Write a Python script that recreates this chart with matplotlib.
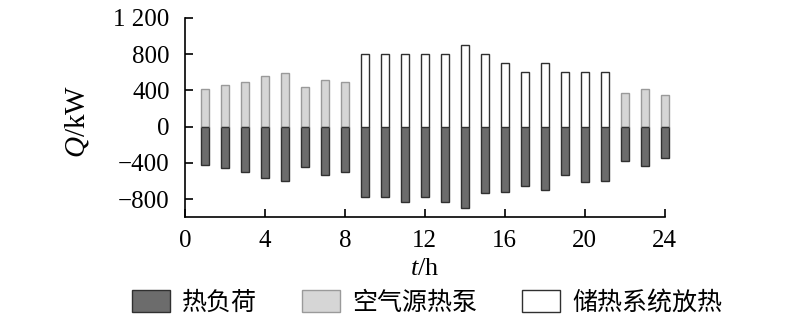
import numpy as np
import matplotlib
matplotlib.use('Agg')
import matplotlib.pyplot as plt
from matplotlib.patches import Patch

plt.rcParams['font.family'] = ['Liberation Serif', 'Noto Sans CJK SC']
plt.rcParams['mathtext.fontset'] = 'custom'
plt.rcParams['mathtext.rm'] = 'Liberation Serif'
plt.rcParams['mathtext.it'] = 'Liberation Serif:italic'

hours = np.arange(1, 25)
# heat load (negative)
load = [-420, -460, -500, -570, -600, -440, -530, -500,
        -770, -770, -830, -770, -830, -900, -730, -720,
        -650, -700, -530, -610, -600, -380, -430, -350]
# air source heat pump
pump = [415, 455, 495, 560, 590, 435, 520, 490,
        0, 0, 0, 0, 0, 0, 0, 0,
        0, 0, 0, 0, 0, 375, 420, 345]
# storage discharge
storage = [0, 0, 0, 0, 0, 0, 0, 0,
           800, 800, 800, 800, 800, 900, 800, 700,
           600, 700, 600, 600, 600, 0, 0, 0]

xticks = [0, 4, 8, 12, 16, 20, 24]
yticks = [-800, -400, 0, 400, 800, 1200]
yticklabels = ['\u2212800', '\u2212400', '0', '400', '800', '1 200']
legend_labels = ['热负荷', '空气源热泵', '储热系统放热']

fig = plt.figure(figsize=(8, 3.24), dpi=100)
ax = fig.add_axes([0.231, 0.329, 0.6, 0.616])

w = 0.4
ax.bar(hours, load, width=w, color='#6c6c6c', edgecolor='#303030', linewidth=1.0, clip_on=False)
ax.bar(hours, pump, width=w, color='#d6d6d6', edgecolor='#9a9a9a', linewidth=1.0, clip_on=False)
ax.bar(hours, storage, width=w, color='white', edgecolor='#303030', linewidth=1.0, clip_on=False)

ax.set_xlim(0, 24)
ax.set_ylim(-1000, 1200)
ax.set_xticks(xticks)
ax.set_yticks(yticks)
ax.set_yticklabels(yticklabels)
ax.tick_params(direction='in', length=6, width=1.2, labelsize=18)
ax.tick_params(axis='x', pad=9)
ax.tick_params(axis='y', pad=11)
for s in ['top', 'right']:
    ax.spines[s].set_visible(False)
for s in ['left', 'bottom']:
    ax.spines[s].set_linewidth(1.2)

ax.set_xlabel(r'$t$/h', fontsize=19)
ax.set_ylabel(r'$Q$/kW', fontsize=21)
ax.xaxis.set_label_coords(0.5, -0.205)
ax.yaxis.set_label_coords(-0.195, 0.48)

handles = [Patch(facecolor='#6c6c6c', edgecolor='#303030'),
           Patch(facecolor='#d6d6d6', edgecolor='#9a9a9a'),
           Patch(facecolor='white', edgecolor='#303030')]
fig.legend(handles, legend_labels, loc='center', bbox_to_anchor=(0.534, 0.066),
           ncol=3, frameon=False, prop={'family': 'Noto Sans CJK SC', 'size': 18},
           handlelength=1.5, handleheight=1.0, columnspacing=1.8, handletextpad=0.5,
           borderaxespad=0)

fig.savefig('out.png', dpi=100)
